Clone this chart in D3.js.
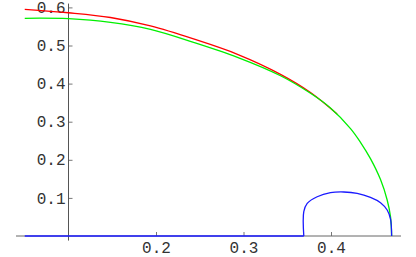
<!DOCTYPE html>
<html>
<head>
<meta charset="utf-8">
<script src="https://cdn.jsdelivr.net/npm/d3@7"></script>
<style>
  body { margin: 0; background: #fff; }
  svg { display: block; }
  .tick text { font-family: "Liberation Mono", "Courier New", monospace; font-size: 16px; fill: #333; }
</style>
</head>
<body>
<div class="container"></div>
<script>
// values
const redX   = [0.05, 0.10, 0.148, 0.1937, 0.2429, 0.2931, 0.3423, 0.3766, 0.407]
const redY   = [0.595, 0.586, 0.5735, 0.5512, 0.5171, 0.4769, 0.4244, 0.3766, 0.320]
const greenX = [0.05, 0.10, 0.148, 0.1937, 0.2429, 0.2931, 0.3423, 0.3766, 0.3994, 0.4223, 0.4337, 0.4451, 0.4566, 0.4642, 0.468, 0.4693]
const greenY = [0.5714, 0.5703, 0.5609, 0.5425, 0.5084, 0.469, 0.4207, 0.3745, 0.336, 0.282, 0.246, 0.203, 0.148, 0.0945, 0.0507, 0]
const blueX  = [0.05, 0.3689, 0.3689, 0.3728, 0.3842, 0.3994, 0.4146, 0.4299, 0.4451, 0.4566, 0.4642, 0.468, 0.4693]
const blueY  = [0, 0, 0.0638, 0.0858, 0.1031, 0.1137, 0.1155, 0.1121, 0.1015, 0.0875, 0.0682, 0.0446, 0]
const xTicks = [0.2, 0.3, 0.4]
const yTicks = [0.1, 0.2, 0.3, 0.4, 0.5, 0.6]

const w = 416
const h = 257

const xScale = d3.scaleLinear().domain([0.04, 0.48]).range([16, 401])
const yScale = d3.scaleLinear().domain([0, 0.6]).range([236, 7.4])

const svg = d3.select(".container")
  .append("svg")
  .attr("width", w)
  .attr("height", h)

const xMinor = d3.range(0.04, 0.481, 0.02).filter(v => Math.abs(v - 0.1) > 1e-6)
const yMinor = d3.range(0.02, 0.601, 0.02)

// x axis
const xg = svg.append("g").attr("transform", "translate(0," + yScale(0) + ")")
xg.call(d3.axisBottom(xScale).tickValues(xMinor).tickSize(-2).tickFormat(""))
xg.call(d3.axisBottom(xScale).tickValues(xTicks).tickSize(-4).tickPadding(6).tickFormat(d3.format(".1f")))
xg.selectAll(".domain").remove()
xg.selectAll("line").attr("stroke", "#777")
xg.append("line")
  .attr("x1", xScale(0.04)).attr("x2", xScale(0.48))
  .attr("stroke", "#666")

// y axis
const yg = svg.append("g").attr("transform", "translate(" + xScale(0.1) + ",0)")
yg.call(d3.axisLeft(yScale).tickValues(yMinor).tickSize(-2).tickFormat(""))
yg.call(d3.axisLeft(yScale).tickValues(yTicks).tickSize(-4).tickPadding(3).tickFormat(d3.format(".1f")))
yg.selectAll(".domain").remove()
yg.selectAll("line").attr("stroke", "#777")
yg.append("line")
  .attr("y1", yScale(-0.012)).attr("y2", yScale(0.61))
  .attr("stroke", "#555")

const line = d3.line()
  .x(d => xScale(d[0]))
  .y(d => yScale(d[1]))
  .curve(d3.curveCatmullRom.alpha(0.5))

const series = [
  { x: redX, y: redY, color: "#ff0000" },
  { x: greenX, y: greenY, color: "#00f000" }
]
series.forEach(s => {
  svg.append("path")
    .datum(s.x.map((v, i) => [v, s.y[i]]))
    .attr("d", line)
    .attr("fill", "none")
    .attr("stroke", s.color)
    .attr("stroke-width", 1.3)
})

// blue: flat part straight, then the arc
const bluePts = blueX.map((v, i) => [v, blueY[i]])
svg.append("path")
  .datum(bluePts.slice(0, 2))
  .attr("d", d3.line().x(d => xScale(d[0])).y(d => yScale(d[1])))
  .attr("fill", "none")
  .attr("stroke", "#1a1aff")
  .attr("stroke-width", 1.3)
svg.append("path")
  .datum(bluePts.slice(1))
  .attr("d", line)
  .attr("fill", "none")
  .attr("stroke", "#1a1aff")
  .attr("stroke-width", 1.3)
</script>
</body>
</html>
